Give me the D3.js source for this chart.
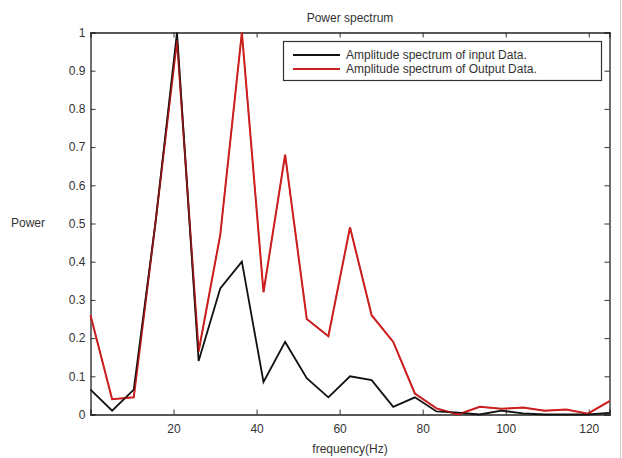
<!DOCTYPE html>
<html><head><meta charset="utf-8">
<script src="https://cdn.jsdelivr.net/npm/d3@7/dist/d3.min.js"></script>
<style>body{margin:0;background:#fff}svg{display:block}text{font-family:"Liberation Sans",Arial,sans-serif}</style>
</head><body>
<svg id="c" width="622" height="458"></svg>
<script>
const freqStep = 125/24;
const freqs = d3.range(25).map(k => k*freqStep);
const inputAmp  = [0.065,0.01,0.065,0.5,1.0,0.14,0.33,0.40,0.085,0.19,0.095,0.045,0.10,0.09,0.02,0.045,0.008,0.005,0.0,0.01,0.003,0.0,0.0,0.0,0.004];
const outputAmp = [0.26,0.04,0.045,0.5,0.98,0.165,0.47,1.0,0.32,0.68,0.25,0.205,0.49,0.26,0.19,0.055,0.016,0.0,0.02,0.015,0.018,0.01,0.013,0.002,0.035];
const xTicks = [20,40,60,80,100,120];
const yTicks = [0,0.1,0.2,0.3,0.4,0.5,0.6,0.7,0.8,0.9,1];
const seriesNames = ["Amplitude spectrum of input Data.","Amplitude spectrum of Output Data."];
const seriesColors = ["#111111","#cc1f1f"];

const svg = d3.select("#c");
const L=90.5, R=609.5, T=32.5, B=414.5;
const x = d3.scaleLinear().domain([0,125]).range([L,R]);
const y = d3.scaleLinear().domain([0,1]).range([B,T]);

svg.append("line").attr("x1",620.5).attr("x2",620.5).attr("y1",0).attr("y2",458).attr("stroke","#d0d0d0");

const tickCol="#333";
const gB = svg.append("g").attr("transform",`translate(0,${B})`).call(d3.axisBottom(x).tickValues(xTicks).tickSize(-5).tickPadding(10).tickFormat(d3.format("d")));
const gT = svg.append("g").attr("transform",`translate(0,${T})`).call(d3.axisTop(x).tickValues(xTicks).tickSize(-5).tickFormat(""));
const gL = svg.append("g").attr("transform",`translate(${L},0)`).call(d3.axisLeft(y).tickValues(yTicks).tickSize(-5).tickPadding(5).tickFormat(d=>d===0||d===1?String(d):d3.format(".1f")(d)));
const gR = svg.append("g").attr("transform",`translate(${R},0)`).call(d3.axisRight(y).tickValues(yTicks).tickSize(-5).tickFormat(""));
[gB,gT,gL,gR].forEach(g=>{
  g.select(".domain").attr("stroke","#222").attr("stroke-width",1.3);
  g.selectAll(".tick line").attr("stroke","#333");
  g.selectAll("text").attr("fill",tickCol).attr("font-size",12).attr("font-family",'"Liberation Sans",Arial,sans-serif');
});

const line = d3.line().x((d,i)=>x(freqs[i])).y(d=>y(d));
svg.append("path").datum(outputAmp).attr("d",line).attr("fill","none").attr("stroke",seriesColors[1]).attr("stroke-width",2);
svg.append("path").datum(inputAmp).attr("d",line).attr("fill","none").attr("stroke",seriesColors[0]).attr("stroke-width",1.8);
svg.append("path").datum(outputAmp).attr("d",line).attr("fill","none").attr("stroke",seriesColors[1]).attr("stroke-width",1.2).attr("opacity",0.7);

svg.append("text").attr("x",(L+R)/2).attr("y",22).attr("text-anchor","middle").attr("font-size",12).attr("fill","#333").text("Power spectrum");
svg.append("text").attr("x",11).attr("y",227).attr("font-size",12).attr("fill","#333").text("Power");
svg.append("text").attr("x",(L+R)/2).attr("y",453).attr("text-anchor","middle").attr("font-size",12).attr("fill","#333").text("frequency(Hz)");

const lg = svg.append("g");
lg.append("rect").attr("x",283.5).attr("y",41.5).attr("width",318).attr("height",39).attr("fill","#fff").attr("stroke","#333").attr("stroke-width",1.2);
seriesNames.forEach((n,i)=>{
  const yy = 55 + i*14;
  lg.append("line").attr("x1",293).attr("x2",340).attr("y1",yy).attr("y2",yy).attr("stroke",seriesColors[i]).attr("stroke-width",2.2);
  lg.append("text").attr("x",346).attr("y",yy+4).attr("font-size",12).attr("fill","#333").text(n);
});
</script>
</body></html>
